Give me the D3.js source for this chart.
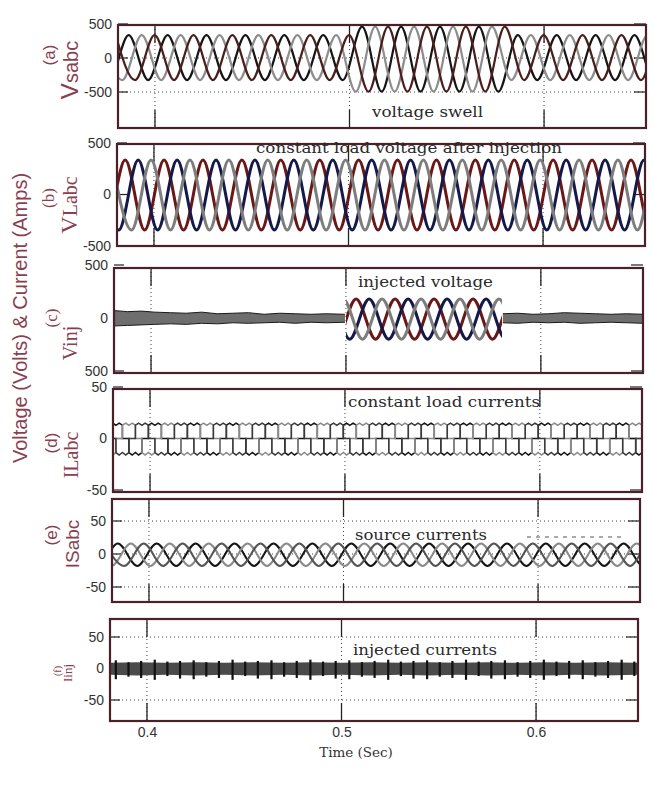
<!DOCTYPE html>
<html>
<head>
<meta charset="utf-8">
<script src="https://cdn.jsdelivr.net/npm/d3@7"></script>
<style>
  body { margin: 0; background: #fff; }
  svg { display: block; }
</style>
</head>
<body>
<div id="chart"></div>
<script>
// ---- data (times in ms, values in V or A) ----
const timeDomain = [381, 652.4];
const timeTicks = [400, 500, 600];
const timeTickLabels = ["0.4", "0.5", "0.6"];

// times of successive half-cycle peaks of the reference phase
const halfT = [362.5, 372.5, 382.5, 392.5, 402.5, 412.5, 422.5, 432.5, 442.5, 452.5,
  462.5, 472.5, 482.5, 492.5, 502.5, 512.5, 522.5, 532.5, 542.5, 552.5,
  562.5, 572.5, 582.5, 592.5, 602.5, 612.5, 622.5, 632.5, 642.5, 652.5, 662.5];

// (a) source voltage, swell 0.50 - 0.58 s
const vsPeakA = [335, -325, 335, -325, 335, -325, 335, -325, 335, -325, 335, -325, 335, -325,
  460, -495, 460, -495, 460, -495, 460, -495,
  335, -325, 335, -325, 335, -325, 335, -325, 335];
const vsPeakB = [335, -325, 335, -325, 335, -325, 335, -325, 335, -325, 335, -325, 335,
  -495, 460, -495, 460, -495, 460, -495, 460,
  -325, 335, -325, 335, -325, 335, -325, 335, -325, 335];
const vsPeakC = [335, -325, 335, -325, 335, -325, 335, -325, 335, -325, 335, -325, 335,
  -495, 460, -495, 460, -495, 460, -495, 460,
  -325, 335, -325, 335, -325, 335, -325, 335, -325, 335];
const vsShift = [4.0, 10.7, 17.3];
const vsTicks = [500, 0, -500];
const vsTickLabels = ["500", "0", "-500"];

// (b) load voltage
const vlPeak = [335, -345, 335, -345, 335, -345, 335, -345, 335, -345, 335, -345, 335, -345,
  335, -345, 335, -345, 335, -345, 335, -345, 335, -345, 335, -345, 335, -345, 335, -345, 335];
const vlShift = [2.7, 9.4, 16.0];
const vlTicks = [500, 0, -500];
const vlTickLabels = ["500", "0", "-500"];

// (c) injected voltage, 0.50 - 0.58 s
const vinjPeak = [0, 0, 0, 0, 0, 0, 0, 0, 0, 0, 0, 0,
  180, -200, 180, -200, 180, -200, 180, -200, 180, -200, 180,
  0, 0, 0, 0, 0, 0, 0, 0];
const vinjWindow = [500, 580];
const vinjNoiseT1 = [381, 388, 395, 402, 410, 418, 426, 434, 442, 450, 458, 466, 474, 482, 490, 499.5];
const vinjNoiseHi1 = [70, 60, 65, 55, 50, 45, 55, 40, 45, 50, 35, 45, 40, 35, 40, 35];
const vinjNoiseLo1 = [-75, -70, -65, -60, -55, -60, -50, -55, -45, -50, -45, -40, -50, -40, -45, -40];
const vinjNoiseT2 = [580.5, 588, 596, 604, 612, 620, 628, 636, 644, 652.4];
const vinjNoiseHi2 = [40, 45, 35, 40, 50, 45, 40, 35, 40, 35];
const vinjNoiseLo2 = [-45, -50, -40, -45, -40, -50, -45, -40, -45, -50];
const vinjTicks = [500, 0, -500];
const vinjTickLabels = ["500", "0", "500"];

// (d) load currents (120 degree blocks with ripple)
const ilPeak = [15, -16, 15, -16, 15, -16, 15, -16, 15, -16, 15, -16, 15, -16,
  15, -16, 15, -16, 15, -16, 15, -16, 15, -16, 15, -16, 15, -16, 15, -16, 15];
const ilShift = [0, 6.67, 13.33];
const blockOffset = [-3.33, -1.67, 0, 1.67, 3.33];
const blockRipple = [0.86, 1.0, 0.85, 1.0, 0.86];
const ilTicks = [50, 0, -50];
const ilTickLabels = ["50", "0", "-50"];

// (e) source currents
const isPeak = [16, -18, 16, -18, 16, -18, 16, -18, 16, -18, 16, -18, 16, -18,
  16, -18, 16, -18, 16, -18, 16, -18, 16, -18, 16, -18, 16, -18, 16, -18, 16];
const isShift = [1.5, 8.2, 14.8];
const isTicks = [50, 0, -50];
const isTickLabels = ["50", "0", "-50"];

// (f) injected currents (ripple band and spikes)
const iinjBandT = [381, 395, 410, 425, 440, 455, 470, 485, 500, 515, 530, 545, 560, 575, 590, 605, 620, 635, 652.4];
const iinjBandHi = [9, 10, 9, 10, 9, 10, 9, 10, 9, 10, 9, 10, 9, 10, 9, 10, 9, 10, 9];
const iinjBandLo = [-10, -11, -10, -11, -10, -11, -10, -11, -10, -11, -10, -11, -10, -11, -10, -11, -10, -11, -10];
const iinjSpikeT = [384, 390.5, 397, 404, 410.5, 417, 424, 430.5, 437, 444, 450.5, 457, 464, 470.5,
  477, 484, 490.5, 497, 504, 510.5, 517, 524, 530.5, 537, 544, 550.5, 557, 564, 570.5, 577,
  584, 590.5, 597, 604, 610.5, 617, 624, 630.5, 637, 644, 650.5];
const iinjSpikeLo = [-17, -13, -15, -18, -12, -16, -17, -13, -15, -18, -12, -16, -17, -13,
  -15, -18, -12, -16, -17, -13, -15, -18, -12, -16, -17, -13, -15, -18, -12, -16,
  -17, -13, -15, -18, -12, -16, -17, -13, -15, -18, -12];
const iinjSpikeHi = [13, 10, 12, 14, 11, 12, 13, 10, 12, 14, 11, 12, 13, 10,
  12, 14, 11, 12, 13, 10, 12, 14, 11, 12, 13, 10, 12, 14, 11, 12,
  13, 10, 12, 14, 11, 12, 13, 10, 12, 14, 11];
const iinjTicks = [50, 0, -50];
const iinjTickLabels = ["50", "0", "-50"];

// ---- layout ----
const SANS = "'Liberation Sans', Arial, sans-serif";
const SERIF = "'Liberation Serif', 'Times New Roman', serif";
const NOTE = "'DejaVu Serif', serif";
const LABEL = "#8a3f4f";

const panels = [
  { id: "a", box: [118, 25, 646, 128], yDomain: [-500, 500], yRange: [92, 24],
    ticks: vsTicks, labels: vsTickLabels, grid: [0, -500],
    kind: "sine", peaks: [vsPeakA, vsPeakB, vsPeakC], shift: vsShift,
    colors: ["#151515", "#8d8d8d", "#4b1e1e"], width: 2.2,
    note: "voltage swell", noteAt: [372, 117, 111] },
  { id: "b", box: [117, 144, 645, 246], yDomain: [-500, 500], yRange: [246, 143],
    ticks: vlTicks, labels: vlTickLabels, grid: [],
    kind: "sine", peaks: [vlPeak, vlPeak, vlPeak], shift: vlShift,
    colors: ["#6a1717", "#15194a", "#7d7d7d"], width: 3,
    note: "constant load voltage after injection", noteAt: [256, 153, 306] },
  { id: "c", box: [114, 268, 643, 373], yDomain: [-500, 500], yRange: [371, 265],
    ticks: vinjTicks, labels: vinjTickLabels, grid: [],
    kind: "inj", peaks: [vinjPeak, vinjPeak, vinjPeak], shift: vlShift,
    colors: ["#6a1717", "#15194a", "#7d7d7d"], width: 3,
    note: "injected voltage", noteAt: [358, 287, 135] },
  { id: "d", box: [113, 389, 642, 492], yDomain: [-50, 50], yRange: [490, 387],
    ticks: ilTicks, labels: ilTickLabels, grid: [],
    kind: "block", peaks: [ilPeak, ilPeak, ilPeak], shift: ilShift,
    colors: ["#151515", "#8a8a8a", "#3a3a3a"], width: 1.5,
    note: "constant load currents", noteAt: [348, 407, 192] },
  { id: "e", box: [112, 499, 640, 602], yDomain: [-50, 50], yRange: [587, 521],
    ticks: isTicks, labels: isTickLabels, grid: [50, 0, -50],
    kind: "sine", peaks: [isPeak, isPeak, isPeak], shift: isShift,
    colors: ["#151515", "#8a8a8a", "#555555"], width: 2,
    note: "source currents", noteAt: [355, 540, 132] },
  { id: "f", box: [110, 619, 638, 721], yDomain: [-50, 50], yRange: [700, 637],
    ticks: iinjTicks, labels: iinjTickLabels, grid: [50, 0, -50],
    kind: "band", note: "injected currents", noteAt: [353, 655, 144] }
];

const svg = d3.select("#chart").append("svg")
  .attr("width", 653).attr("height", 786);
const defs = svg.append("defs");

const sineLine = d3.line().x(d => d[0]).y(d => d[1]).curve(d3.curveMonotoneX);
const flatLine = d3.line().x(d => d[0]).y(d => d[1]);

let lastX = null;

panels.forEach(p => {
  const [L, T, R, B] = p.box;
  const x = d3.scaleLinear().domain(timeDomain).range([L, R]);
  const y = d3.scaleLinear().domain(p.yDomain).range(p.yRange);
  lastX = x;
  const g = svg.append("g").attr("class", "panel-" + p.id);

  defs.append("clipPath").attr("id", "clip-" + p.id)
    .append("rect").attr("x", L).attr("y", T).attr("width", R - L).attr("height", B - T);

  // vertical grid + inward ticks
  timeTicks.forEach(t => {
    g.append("line").attr("x1", x(t)).attr("x2", x(t)).attr("y1", T).attr("y2", B)
      .attr("stroke", "#444").attr("stroke-width", 1).attr("stroke-dasharray", "1 3");
    g.append("line").attr("x1", x(t)).attr("x2", x(t)).attr("y1", T).attr("y2", T + 18)
      .attr("stroke", "#222").attr("stroke-width", 1.3);
    g.append("line").attr("x1", x(t)).attr("x2", x(t)).attr("y1", B - 18).attr("y2", B)
      .attr("stroke", "#222").attr("stroke-width", 1.3);
  });
  p.grid.forEach(v => {
    g.append("line").attr("x1", L).attr("x2", R).attr("y1", y(v)).attr("y2", y(v))
      .attr("stroke", "#444").attr("stroke-width", 1).attr("stroke-dasharray", "1 3");
  });
  p.ticks.forEach(v => {
    g.append("line").attr("x1", L).attr("x2", L + 10).attr("y1", y(v)).attr("y2", y(v))
      .attr("stroke", "#222").attr("stroke-width", 1.2);
    g.append("line").attr("x1", R - 12).attr("x2", R).attr("y1", y(v)).attr("y2", y(v))
      .attr("stroke", "#222").attr("stroke-width", 1.2);
  });

  const plot = g.append("g").attr("clip-path", `url(#clip-${p.id})`);

  if (p.kind === "sine" || p.kind === "inj") {
    let target = plot;
    if (p.kind === "inj") {
      // noise before and after injection
      [[vinjNoiseT1, vinjNoiseHi1, vinjNoiseLo1], [vinjNoiseT2, vinjNoiseHi2, vinjNoiseLo2]].forEach(([ts, hi, lo]) => {
        const area = d3.area().x((d, i) => x(ts[i])).y0((d, i) => y(lo[i])).y1((d, i) => y(hi[i]));
        plot.append("path").datum(ts).attr("d", area).attr("fill", "#6e6e6e");
        plot.append("path").datum(ts.map((t, i) => [x(t), y(hi[i])])).attr("d", flatLine)
          .attr("fill", "none").attr("stroke", "#1a1a1a").attr("stroke-width", 1);
        plot.append("path").datum(ts.map((t, i) => [x(t), y(lo[i])])).attr("d", flatLine)
          .attr("fill", "none").attr("stroke", "#1a1a1a").attr("stroke-width", 1);
      });
      defs.append("clipPath").attr("id", "clip-inj")
        .append("rect").attr("x", x(vinjWindow[0])).attr("y", T)
        .attr("width", x(vinjWindow[1]) - x(vinjWindow[0])).attr("height", B - T);
      target = plot.append("g").attr("clip-path", "url(#clip-inj)");
    }
    p.peaks.forEach((pk, k) => {
      const pts = halfT.map((t, i) => [x(t + p.shift[k]), y(pk[i])]);
      target.append("path").datum(pts).attr("d", sineLine)
        .attr("fill", "none").attr("stroke", p.colors[k]).attr("stroke-width", p.width)
        .attr("stroke-linejoin", "round");
    });
  } else if (p.kind === "block") {
    p.peaks.forEach((pk, k) => {
      const pts = [];
      halfT.forEach((t, i) => {
        const tc = t + p.shift[k];
        pts.push([x(tc + blockOffset[0]), y(0)]);
        blockOffset.forEach((o, j) => pts.push([x(tc + o), y(pk[i] * blockRipple[j])]));
        pts.push([x(tc + blockOffset[blockOffset.length - 1]), y(0)]);
      });
      plot.append("path").datum(pts).attr("d", flatLine)
        .attr("fill", "none").attr("stroke", p.colors[k]).attr("stroke-width", p.width);
    });
  } else if (p.kind === "band") {
    const area = d3.area().x((d, i) => x(iinjBandT[i]))
      .y0((d, i) => y(iinjBandLo[i])).y1((d, i) => y(iinjBandHi[i]));
    plot.append("path").datum(iinjBandT).attr("d", area).attr("fill", "#4a4a4a");
    iinjSpikeT.forEach((t, i) => {
      plot.append("line").attr("x1", x(t)).attr("x2", x(t))
        .attr("y1", y(iinjSpikeLo[i])).attr("y2", y(iinjSpikeHi[i]))
        .attr("stroke", "#111").attr("stroke-width", 2.2);
    });
  }

  // frame
  g.append("rect").attr("x", L).attr("y", T).attr("width", R - L).attr("height", B - T)
    .attr("fill", "none").attr("stroke", "#4a2029").attr("stroke-width", 2.2);

  // y tick labels
  const yAxis = g.append("g").attr("transform", `translate(${L - 3},0)`)
    .call(d3.axisLeft(y).tickValues(p.ticks).tickSize(0)
      .tickFormat((d, i) => p.labels[i]));
  yAxis.select(".domain").remove();
  yAxis.selectAll("text").attr("font-family", SANS).attr("font-size", 14).attr("fill", "#333");

  // annotation
  g.append("text").attr("x", p.noteAt[0]).attr("y", p.noteAt[1])
    .attr("textLength", p.noteAt[2]).attr("lengthAdjust", "spacingAndGlyphs")
    .attr("font-family", NOTE).attr("font-size", 14).attr("fill", "#2a2a2a")
    .text(p.note);
});

// x axis labels under the last panel
const xAxis = svg.append("g").attr("transform", "translate(0,724)")
  .call(d3.axisBottom(lastX).tickValues(timeTicks).tickSize(0)
    .tickFormat((d, i) => timeTickLabels[i]));
xAxis.select(".domain").remove();
xAxis.selectAll("text").attr("font-family", SANS).attr("font-size", 14).attr("fill", "#333");

svg.append("text").attr("x", 356).attr("y", 757).attr("text-anchor", "middle")
  .attr("font-family", NOTE).attr("font-size", 13.5).attr("fill", "#333")
  .text("Time (Sec)");

// rotated labels
function vlabel(cx, cy, parts) {
  const t = svg.append("text")
    .attr("transform", `translate(${cx},${cy}) rotate(-90)`)
    .attr("text-anchor", "middle").attr("dy", "0.35em").attr("fill", LABEL);
  parts.forEach(pt => t.append("tspan").attr("font-family", pt[1]).attr("font-size", pt[2]).text(pt[0]));
}

vlabel(21, 318, [["Voltage (Volts) & Current (Amps)", SANS, 20]]);
vlabel(49, 55, [["(a)", SANS, 17]]);
vlabel(72, 70, [["V", SANS, 24], ["sabc", SANS, 20]]);
vlabel(48, 198, [["(b)", SERIF, 17]]);
vlabel(71, 205, [["V", SERIF, 24], ["Labc", SERIF, 20]]);
vlabel(51, 318, [["(c)", SERIF, 17]]);
vlabel(71, 343, [["Vinj", SERIF, 20]]);
vlabel(51, 443, [["(d)", SANS, 17]]);
vlabel(72, 455, [["ILabc", SERIF, 20]]);
vlabel(51, 535, [["(e)", SANS, 17]]);
vlabel(73, 544, [["ISabc", SANS, 19]]);
vlabel(55, 671, [["(f)", SERIF, 10]]);
vlabel(66, 673, [["Iinj", SERIF, 13]]);

// dashed trace next to "source currents"
svg.append("line").attr("x1", 527).attr("x2", 622).attr("y1", 537).attr("y2", 537)
  .attr("stroke", "#555").attr("stroke-width", 1).attr("stroke-dasharray", "4 5");
</script>
</body>
</html>
